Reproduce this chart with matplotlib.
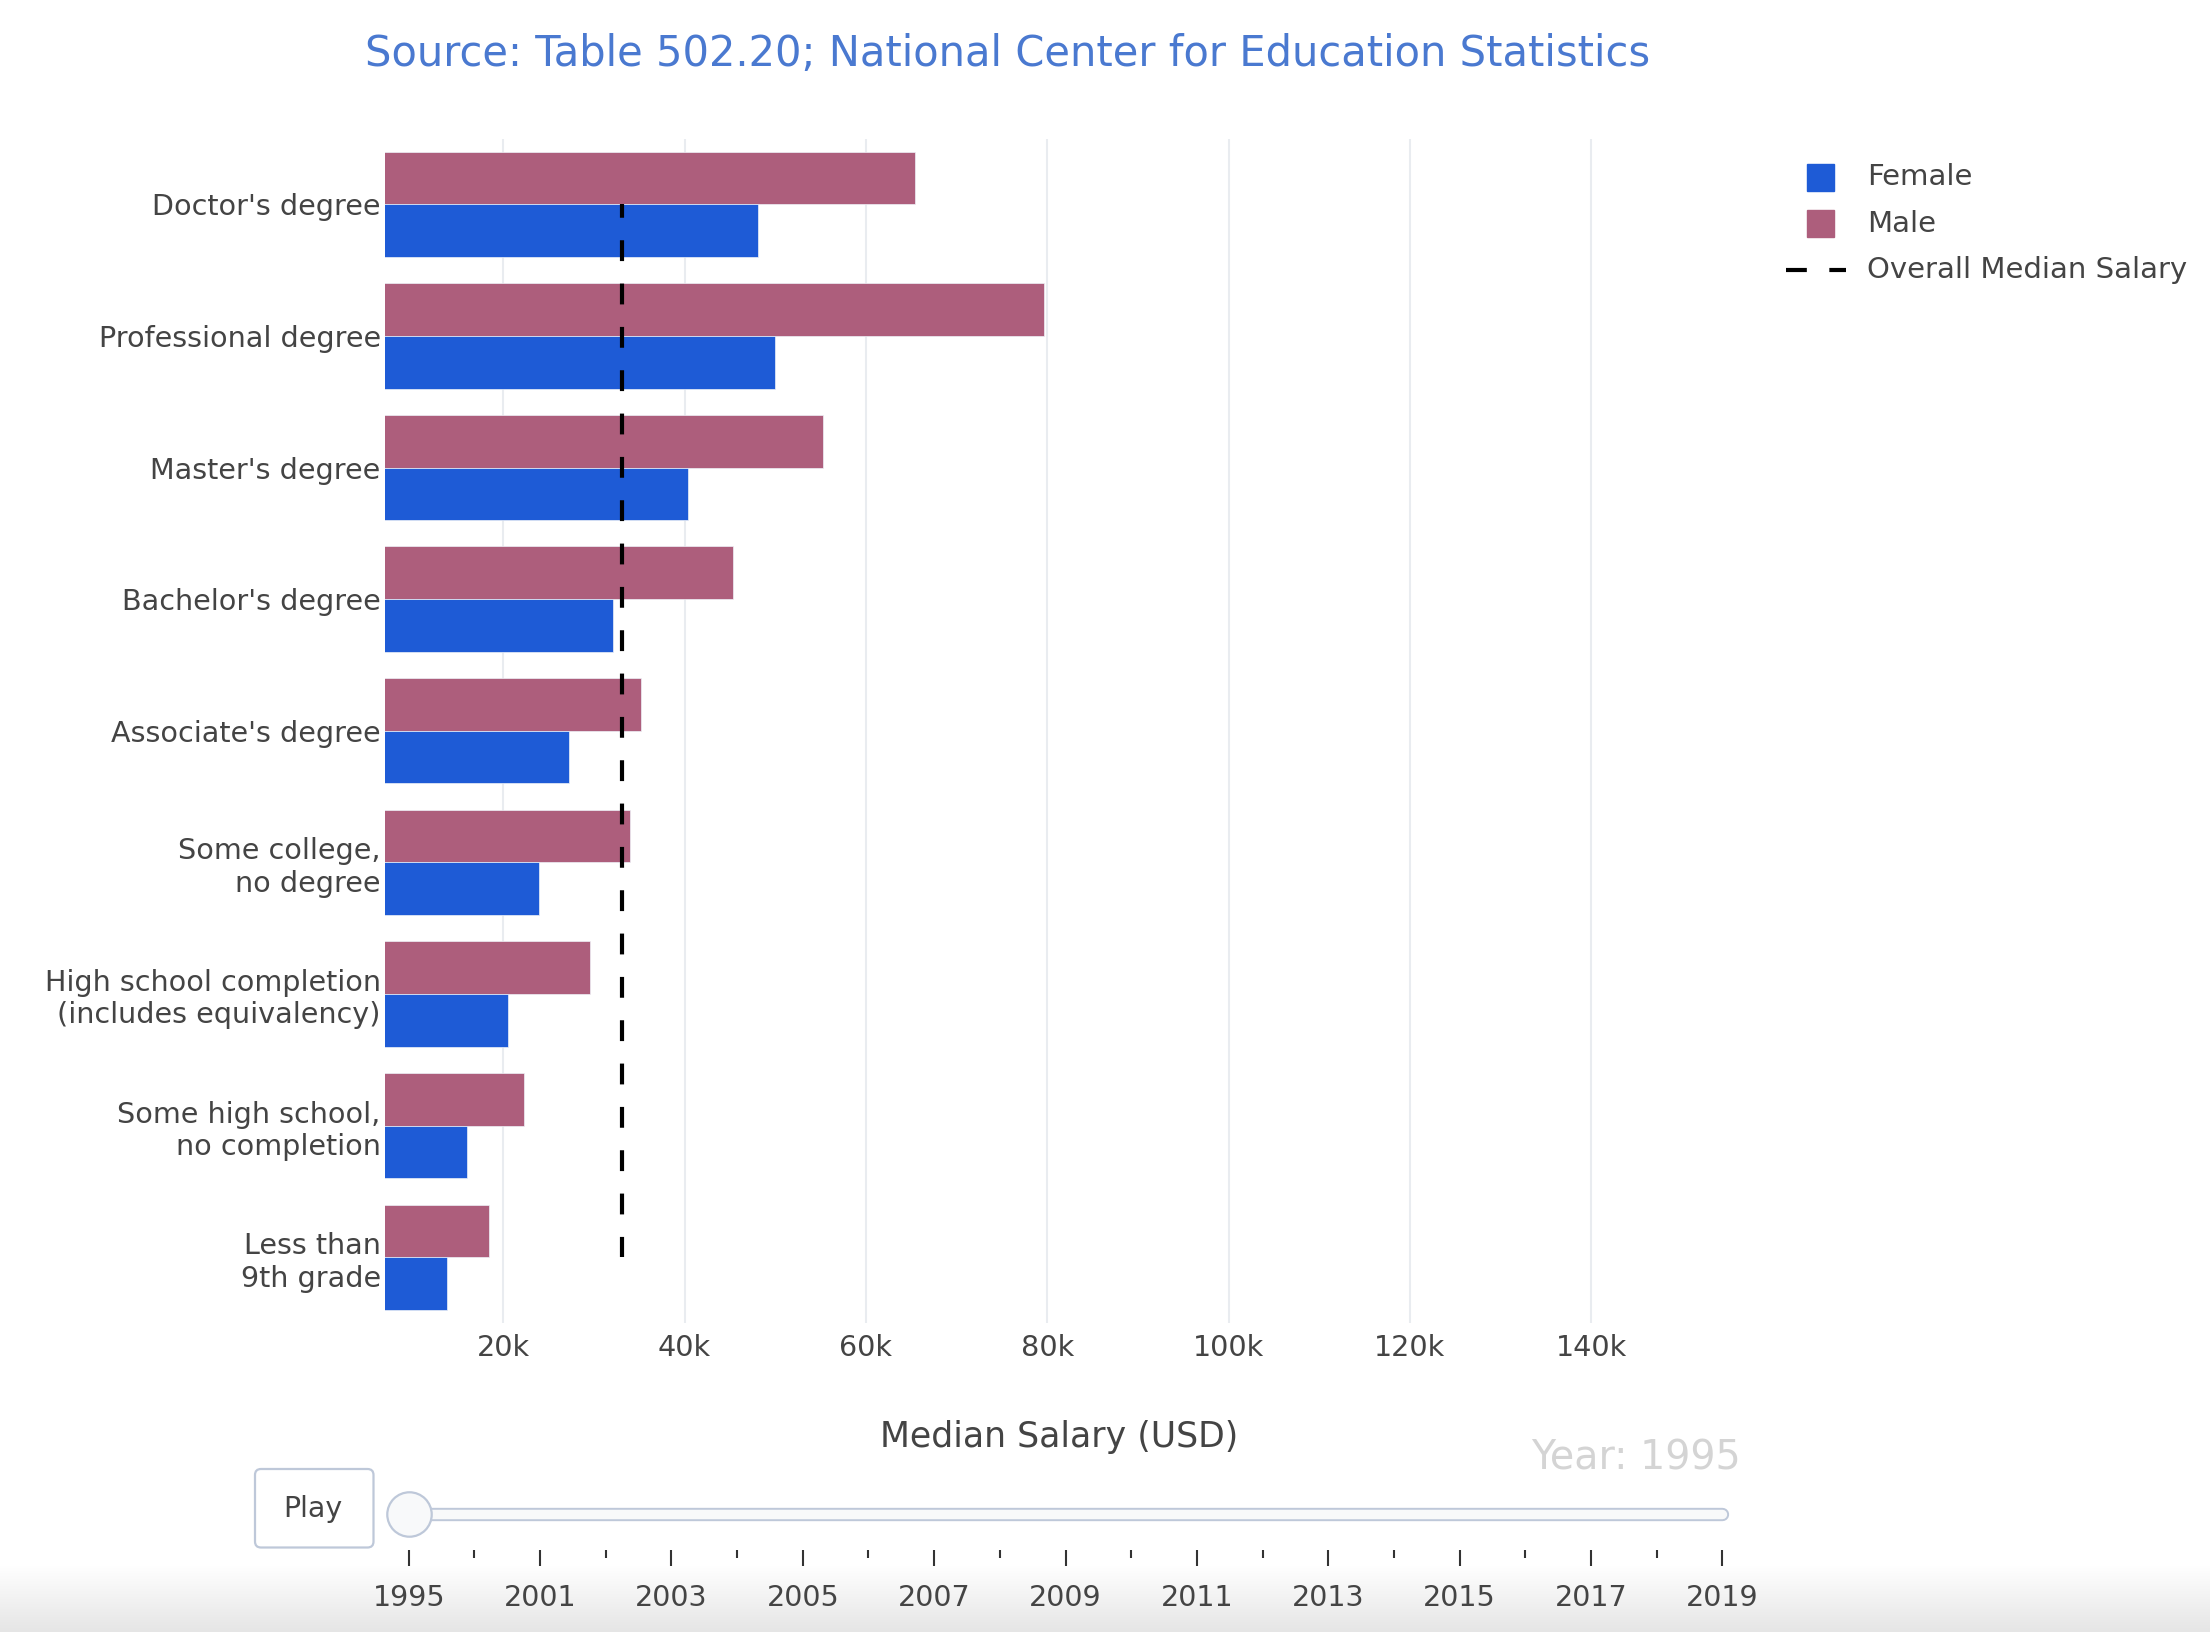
"""Median salary by education level and sex, year 1995 frame of the slider chart."""
import numpy as np
import matplotlib
matplotlib.use("Agg")
import matplotlib.pyplot as plt
from matplotlib.patches import Rectangle, FancyBboxPatch
from matplotlib.lines import Line2D

plt.rcParams["font.family"] = ["DejaVu Sans"]

categories = ["Doctor's degree", "Professional degree", "Master's degree",
              "Bachelor's degree", "Associate's degree",
              "Some college,\nno degree",
              "High school completion\n(includes equivalency)",
              "Some high school,\nno completion", "Less than\n9th grade"]
male = [65400, 79700, 55300, 45300, 35200, 34000, 29600, 22300, 18400]
female = [48100, 50000, 40400, 32100, 27300, 24000, 20500, 16000, 13800]
overall_median = 33050
xticks = [20000, 40000, 60000, 80000, 100000, 120000, 140000]
xticklabels = ["20k", "40k", "60k", "80k", "100k", "120k", "140k"]
years = ["1995"] + [str(y) for y in range(2000, 2020)]
current_year = "1995"

TXT = "#444444"
FEMALE = "#1e5bd6"
MALE = "#ad5e7c"
W, H = 2210, 1632

fig = plt.figure(figsize=(W / 100, H / 100), dpi=100)

# overlay axes in pixel coordinates for page furniture
ov = fig.add_axes([0, 0, 1, 1], zorder=0)
ov.set_xlim(0, W)
ov.set_ylim(H, 0)
ov.axis("off")
grad = np.linspace(1.0, 0.90, 64)[:, None, None] * np.ones((64, 2, 3))
ov.imshow(grad, extent=(0, W, H, 1565), aspect="auto", zorder=0)

# main bar chart
ax = fig.add_axes([384.8 / W, 1 - 1323 / H, (1733 - 384.8) / W, (1323 - 138.5) / H],
                  zorder=2)
ax.set_facecolor("none")
y = np.arange(len(categories))
ax.barh(y - 0.2, male, height=0.4, left=0, color=MALE,
        edgecolor="#eef1f7", linewidth=0.5, zorder=2)
ax.barh(y + 0.2, female, height=0.4, left=0, color=FEMALE,
        edgecolor="#eef1f7", linewidth=0.5, zorder=2)
ax.vlines(overall_median, 0, len(categories) - 1, colors="black",
          linewidth=3.0, linestyles=(1.7, (5.0, 5.4)), zorder=3)
ax.set_xlim(6940, 155640)
ax.set_ylim(len(categories) - 0.5, -0.5)
ax.set_xticks(xticks, xticklabels)
ax.set_yticks(y, categories)
ax.grid(axis="x", color="#e9ecf0", linewidth=1.5, zorder=0)
ax.tick_params(axis="both", length=0, labelsize=20.6, labelcolor=TXT)
ax.tick_params(axis="x", pad=8)
ax.tick_params(axis="y", pad=3)
for s in ax.spines.values():
    s.set_visible(False)
ax.set_xlabel("Median Salary (USD)", fontsize=25, color=TXT, labelpad=42)

# title
ov.text(1008, 54, "Source: Table 502.20; National Center for Education Statistics",
        ha="center", va="center", fontsize=30, color="#4a79d0")

# legend
ov.add_patch(Rectangle((1807, 163.5), 27, 27, color=FEMALE))
ov.add_patch(Rectangle((1807, 210), 27, 27, color=MALE))
ov.add_line(Line2D([1786, 1846], [269.5, 269.5], color="black", linewidth=3.0,
                   linestyle=(0, (5.0, 5.4))))
for ty, lab in [(177, "Female"), (223.5, "Male"), (269.5, "Overall Median Salary")]:
    ov.text(1867, ty, lab, ha="left", va="center", fontsize=21, color=TXT)

# play button and current value
ov.add_patch(FancyBboxPatch((255, 1469), 118.5, 78.5,
                            boxstyle="round,pad=0,rounding_size=6",
                            facecolor="white", edgecolor="#bec8d9", linewidth=1.6))
ov.text(313, 1509, "Play", ha="center", va="center", fontsize=20.5, color=TXT)
ov.text(1741, 1459, f"Year: {current_year}", ha="right", va="center",
        fontsize=28.5, color="#d4d4d4")

# slider
sl = fig.add_axes([408.7 / W, 1 - 1550 / H, (1722.3 - 408.7) / W, 70 / H], zorder=3)
sl.set_facecolor("none")
sl.set_xlim(0, len(years) - 1)
sl.set_ylim(0, 1)
ty = 0.514
sl.plot([0, len(years) - 1], [ty, ty], color="#bec8d9", linewidth=9.6,
        solid_capstyle="round")
sl.plot([0, len(years) - 1], [ty, ty], color="#f8f9fa", linewidth=6.8,
        solid_capstyle="round")
sl.plot([years.index(current_year)], [ty], marker="o", markersize=32,
        markerfacecolor="#f8f9fa", markeredgecolor="#bec8d9", markeredgewidth=1.6)
sl.set_xticks(range(0, len(years), 2), years[::2])
sl.set_xticks(range(1, len(years), 2), minor=True)
sl.set_yticks([])
sl.tick_params(axis="x", which="major", length=11.5, width=1.5, color="#333333",
               labelsize=20.5, labelcolor=TXT, pad=13)
sl.tick_params(axis="x", which="minor", length=6, width=1.5, color="#333333")
for s in sl.spines.values():
    s.set_visible(False)
for l in sl.lines:
    l.set_clip_on(False)

fig.savefig("out.png", dpi=100)
